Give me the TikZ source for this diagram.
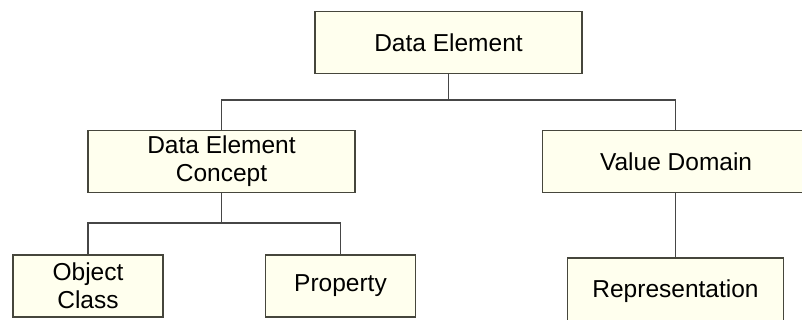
\documentclass[tikz,border=0pt]{standalone}
\usepackage{fontspec}
\setmainfont{Liberation Sans}
\definecolor{boxfill}{RGB}{255,255,238}
\definecolor{boxline}{RGB}{70,70,60}
\definecolor{wire}{RGB}{70,70,70}

\begin{document}
\begin{tikzpicture}[x=1pt, y=-1pt,
    block/.style={draw=boxline, line width=1.2pt, fill=boxfill, inner sep=0pt,
        align=center, font=\fontsize{24.5}{28}\selectfont},
    wide/.style={block, minimum width=267pt, minimum height=62pt},
    small/.style={block, minimum width=150pt, minimum height=62pt},
    wire/.style={draw=wire, line width=1.5pt}]
    \useasboundingbox (0,0) rectangle (802,320);
    \clip (0,0) rectangle (802,320);

    \node[wide] at (448.5, 42.5)   (DE)  {Data Element};
    \node[wide] at (221.5, 161.5)  (DEC) {Data Element\\Concept};
    \node[wide, minimum width=300pt, anchor=west] at (542, 161.5) (VD) {\hspace*{-33pt}Value Domain};
    \node[small] at (88, 286)      (OC)  {Object\\Class};
    \node[small] at (340.5, 286)   (P)   {Property};
    \node[block, minimum width=216pt, minimum height=66pt] at (675.5, 291) (R) {\raisebox{1pt}{Representation}};

    \coordinate (j1) at (448.5, 100);
    \coordinate (j2) at (221.5, 223);

    \draw[wire] (DE) -- (j1);
    \draw[wire] (DEC.north) |- (j1) -| (R |- VD.north);
    \draw[wire] (DEC) -- (j2);
    \draw[wire] (OC.north) |- (j2) -| (P.north);
    \draw[wire] (R |- VD.south) -- (R);
\end{tikzpicture}
\end{document}
